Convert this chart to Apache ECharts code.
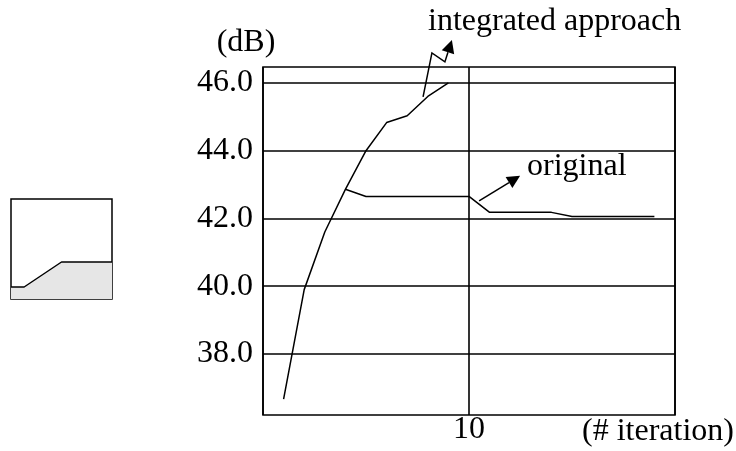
<!DOCTYPE html>
<html>
<head>
<meta charset="utf-8">
<script src="https://cdn.jsdelivr.net/npm/echarts@6/dist/echarts.min.js"></script>
<style>
  html, body { margin: 0; padding: 0; background: #fff; }
  #chart { width: 736px; height: 451px; }
</style>
</head>
<body>
<div id="chart"></div>
<script>
// data
const iterations = [1, 2, 3, 4, 5, 6, 7, 8, 9];
const integrated = [36.67, 39.9, 41.6, 42.86, 44.0, 44.83, 45.03, 45.6, 46.0];
const originalIter = [4, 5, 10, 11, 14, 15, 19];
const original = [42.86, 42.65, 42.65, 42.18, 42.18, 42.06, 42.06];
const yTicks = [38, 40, 42, 44, 46];
const xTicks = [10];
// small inset sketch on the left
const insetX = [0, 1.3, 5, 10];
const insetY = [1.2, 1.2, 3.7, 3.7];

// annotation leaders, in data coordinates of the main grid
const integratedLeader = [[7.77, 45.59], [8.2, 46.885], [8.83, 46.62], [9.17, 47.27]];
const originalLeader = [[10.49, 42.52], [12.48, 43.26]];

const font = "Liberation Serif";
const black = "#000";

const chart = echarts.init(document.getElementById("chart"));

const option = {
  animation: false,
  grid: [
    { left: 263, top: 67, right: 61, bottom: 36, show: true, borderColor: black, borderWidth: 1.6 },
    { left: 11, top: 199, width: 101, height: 100, show: true, borderColor: black, borderWidth: 1.5 }
  ],
  xAxis: [
    {
      type: "value",
      gridIndex: 0,
      min: 0,
      max: 20,
      interval: 10,
      axisLine: { show: false },
      axisTick: { show: false },
      splitLine: { show: true, lineStyle: { color: black, width: 1.6 } },
      axisLabel: {
        formatter: (v) => (xTicks.includes(v) ? String(v) : ""),
        color: black,
        fontFamily: font,
        fontSize: 32,
        margin: -1
      }
    },
    { type: "value", gridIndex: 1, min: 0, max: 10, show: false }
  ],
  yAxis: [
    {
      type: "value",
      gridIndex: 0,
      min: 36.2,
      max: 46.47,
      axisLine: { show: false },
      axisTick: { show: false, customValues: yTicks },
      splitLine: { show: false },
      axisLabel: {
        customValues: yTicks,
        formatter: (v) => v.toFixed(1),
        color: black,
        fontFamily: font,
        fontSize: 32,
        margin: 10
      }
    },
    { type: "value", gridIndex: 1, min: 0, max: 10, show: false }
  ],
  series: [
    {
      name: "integrated approach",
      type: "line",
      data: iterations.map((x, i) => [x, integrated[i]]),
      showSymbol: false,
      lineStyle: { color: black, width: 1.5 },
      z: 3
    },
    {
      name: "original",
      type: "line",
      data: originalIter.map((x, i) => [x, original[i]]),
      showSymbol: false,
      lineStyle: { color: black, width: 1.5 },
      z: 3,
      markLine: {
        silent: true,
        symbol: ["none", "none"],
        label: { show: false },
        lineStyle: { color: black, width: 1.6, type: "solid" },
        data: yTicks.map((v) => ({ yAxis: v }))
      }
    },
    {
      type: "line",
      xAxisIndex: 1,
      yAxisIndex: 1,
      data: insetX.map((x, i) => [x, insetY[i]]),
      showSymbol: false,
      lineStyle: { color: black, width: 1.5 },
      areaStyle: { color: "#e6e6e6", opacity: 1 }
    }
  ]
};

chart.setOption(option);

// arrow head triangle pointing from "from" to "tip"
function arrowHead(tip, from, len, half) {
  const dx = tip[0] - from[0], dy = tip[1] - from[1];
  const d = Math.hypot(dx, dy);
  const ux = dx / d, uy = dy / d;
  const bx = tip[0] - ux * len, by = tip[1] - uy * len;
  return {
    base: [bx, by],
    pts: [tip, [bx - uy * half, by + ux * half], [bx + uy * half, by - ux * half]]
  };
}

function leader(points) {
  const px = points.map((p) => chart.convertToPixel({ gridIndex: 0 }, p));
  const tip = px[px.length - 1];
  const head = arrowHead(tip, px[px.length - 2], 13, 6.5);
  const line = px.slice(0, -1).concat([head.base]);
  return [
    { type: "polyline", shape: { points: line }, style: { stroke: black, lineWidth: 1.5, fill: null } },
    { type: "polygon", shape: { points: head.pts }, style: { fill: black } }
  ];
}

const textStyle = (text, x, y, align) => ({
  type: "text",
  x: x,
  y: y,
  style: { text: text, fill: black, font: "32px " + font, align: align, verticalAlign: "middle" }
});

chart.setOption({
  graphic: [
    ...leader(integratedLeader),
    ...leader(originalLeader),
    textStyle("(dB)", 246, 43, "center"),
    textStyle("(# iteration)", 582, 432, "left"),
    textStyle("integrated approach", 428, 22, "left"),
    textStyle("original", 527, 167, "left")
  ]
});

window.addEventListener("resize", () => chart.resize());
</script>
</body>
</html>
